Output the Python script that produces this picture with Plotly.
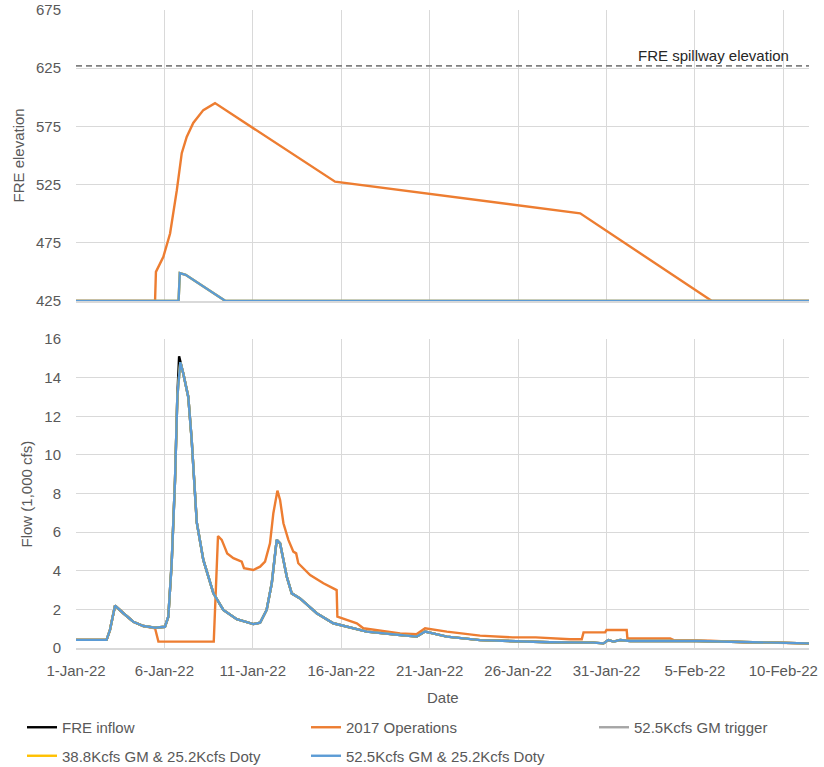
import pandas as pd
import plotly.graph_objects as go
from plotly.subplots import make_subplots

START = pd.Timestamp("2022-01-01")
END_DAYS = 41.45

# ---------------- Top panel: FRE elevation (ft) ----------------
elev_ops_t = [0, 4.47, 4.52, 4.94, 5.32, 5.50, 5.70, 5.98, 6.26, 6.63, 7.20, 7.86, 14.65, 28.51, 35.96, 41.5]
elev_ops_v = [425, 425, 450, 463, 483, 500, 520, 552, 566, 578, 589, 595, 527.5, 500.3, 425, 425]

elev_525_t = [0, 5.80, 5.87, 6.20, 8.45, 41.5]
elev_525_v = [425, 425, 449, 447.5, 425, 425]

spillway_elev = 627
spillway_label = "FRE spillway elevation"

# ---------------- Bottom panel: flow (1,000 cfs) ----------------
flow_525_t = [0, 1.73, 1.92, 2.21, 2.68, 3.24, 3.81, 4.47, 5.03, 5.22, 5.41, 5.60, 5.73, 5.90, 6.07,
              6.35, 6.54, 6.83, 7.20, 7.77, 8.33, 9.09, 10.03, 10.41, 10.78, 11.07, 11.35, 11.54,
              11.92, 12.20, 12.67, 13.61, 14.55, 15.50, 16.44, 18.33, 19.27, 19.74, 20.97, 22.85,
              25.1, 26.8, 29.26, 29.83, 30.1, 30.4, 30.77, 31.33, 35.1, 37.74, 40.1, 41.5]
flow_525_v = [0.42, 0.42, 0.93, 2.2, 1.8, 1.36, 1.14, 1.05, 1.1, 1.62, 4.39, 8.7, 13.0, 14.8, 14.2,
              13.0, 10.8, 6.5, 4.56, 2.83, 1.97, 1.49, 1.24, 1.31, 1.97, 3.35, 5.6, 5.42,
              3.69, 2.83, 2.57, 1.8, 1.28, 1.05, 0.85, 0.67, 0.59, 0.85, 0.59, 0.41,
              0.33, 0.3, 0.28, 0.24, 0.41, 0.33, 0.41, 0.36, 0.36, 0.3, 0.24, 0.24]

inflow_t = [0, 1.73, 1.92, 2.21, 2.68, 3.24, 3.81, 4.47, 5.03, 5.22, 5.41, 5.60, 5.73, 5.83, 6.07,
            6.35, 6.54, 6.83, 7.20, 7.77, 8.33, 9.09, 10.03, 10.41, 10.78, 11.07, 11.35, 11.54,
            11.92, 12.20, 12.67, 13.61, 14.55, 15.50, 16.44, 18.33, 19.27, 19.74, 20.97, 22.85,
            25.1, 26.8, 29.26, 29.83, 30.1, 30.4, 30.77, 31.33, 35.1, 37.74, 40.1, 41.5]
inflow_v = [0.42, 0.42, 0.93, 2.2, 1.8, 1.36, 1.14, 1.05, 1.1, 1.62, 4.39, 8.7, 13.0, 15.1, 14.2,
            13.0, 10.8, 6.5, 4.56, 2.83, 1.97, 1.49, 1.24, 1.31, 1.97, 3.35, 5.6, 5.42,
            3.69, 2.83, 2.57, 1.8, 1.28, 1.05, 0.85, 0.67, 0.59, 0.85, 0.59, 0.41,
            0.33, 0.3, 0.28, 0.24, 0.41, 0.33, 0.41, 0.36, 0.36, 0.3, 0.24, 0.24]

flow_ops_t = [0, 1.73, 1.92, 2.21, 2.68, 3.24, 3.81, 4.47, 4.66, 7.79, 8.03, 8.24, 8.43, 8.55, 8.9,
              9.37, 9.5, 10.03, 10.41, 10.69, 10.97, 11.16, 11.39, 11.54, 11.73, 12.01, 12.29,
              12.45, 12.57, 13.24, 13.99, 14.74, 14.78, 15.88, 16.25, 18.33, 19.27, 19.74, 20.97,
              22.85, 24.7, 26.0, 27.94, 28.6, 28.7, 29.92, 30.0, 31.14, 31.18, 33.6, 33.8, 35.86,
              37.74, 40.1, 41.5]
flow_ops_v = [0.42, 0.42, 0.93, 2.2, 1.8, 1.36, 1.14, 1.02, 0.33, 0.33, 5.8, 5.6, 5.17, 4.9, 4.65,
              4.47, 4.13, 4.04, 4.21, 4.47, 5.42, 6.98, 8.15, 7.67, 6.46, 5.6, 4.99,
              4.9, 4.39, 3.78, 3.35, 3.0, 1.62, 1.28, 1.02, 0.76, 0.72, 1.02, 0.85,
              0.64, 0.55, 0.55, 0.45, 0.45, 0.81, 0.81, 0.93, 0.93, 0.5, 0.5, 0.41, 0.38,
              0.3, 0.24, 0.24]

series_names = ["FRE inflow", "2017 Operations", "52.5Kcfs GM trigger",
                "38.8Kcfs GM & 25.2Kcfs Doty", "52.5Kcfs GM & 25.2Kcfs Doty"]
series_colors = ["#000000", "#ED7D31", "#A5A5A5", "#FFC000", "#5B9BD5"]

title_top = "FRE elevation"
title_bottom = "Flow (1,000 cfs)"
title_x = "Date"


def to_dates(days):
    return START + pd.to_timedelta(pd.Series(days, dtype=float), unit="D")


FONT = "Liberation Sans, Arial, sans-serif"
TXT = "#595959"
GRID = "#D9D9D9"
LW = 2.4
W, H = 824, 767
ML, MR, MT, MB = 76, 15, 10, 119
PW, PH = W - ML - MR, H - MT - MB

fig = make_subplots(rows=2, cols=1, shared_xaxes=True, vertical_spacing=0.06)

# top panel
fig.add_trace(go.Scatter(x=to_dates([0, END_DAYS + 1]), y=[spillway_elev, spillway_elev], mode="lines",
                         line=dict(color="#808080", width=1.6, dash="6px,4px"), showlegend=False,
                         hoverinfo="skip"), row=1, col=1)
fig.add_trace(go.Scatter(x=to_dates(elev_ops_t), y=elev_ops_v, mode="lines", name=series_names[1],
                         line=dict(color=series_colors[1], width=LW), showlegend=False), row=1, col=1)
for i in (2, 3, 4):
    fig.add_trace(go.Scatter(x=to_dates(elev_525_t), y=elev_525_v, mode="lines", name=series_names[i],
                             line=dict(color=series_colors[i], width=LW), showlegend=False), row=1, col=1)

# bottom panel  (legend columns: col1 = inflow / 38.8, col2 = 2017 ops / 52.5 Doty, col3 = trigger)
legend_of = ["legend", "legend2", "legend3", "legend", "legend2"]
fig.add_trace(go.Scatter(x=to_dates(inflow_t), y=inflow_v, mode="lines", name=series_names[0],
                         legendgroup="g0", line=dict(color=series_colors[0], width=LW),
                         legend=legend_of[0]), row=2, col=1)
fig.add_trace(go.Scatter(x=to_dates(flow_ops_t), y=flow_ops_v, mode="lines", name=series_names[1],
                         legendgroup="g1", line=dict(color=series_colors[1], width=LW),
                         legend=legend_of[1]), row=2, col=1)
for i in (2, 3, 4):
    fig.add_trace(go.Scatter(x=to_dates(flow_525_t), y=flow_525_v, mode="lines", name=series_names[i],
                             legendgroup="g%d" % i, line=dict(color=series_colors[i], width=LW),
                             legend=legend_of[i]), row=2, col=1)

x_range = [START, START + pd.Timedelta(days=END_DAYS)]
common_x = dict(range=x_range, type="date", tick0="2022-01-01", dtick=5 * 86400000,
                showgrid=True, gridcolor=GRID, gridwidth=1, zeroline=False,
                showline=True, linecolor=GRID, linewidth=1.5, automargin=False)

fig.update_xaxes(**common_x, showticklabels=False, row=1, col=1)
fig.update_xaxes(**common_x, tickformat="%-d-%b-%y", ticks="", ticklabelstandoff=8,
                 tickfont=dict(family=FONT, size=15, color=TXT), row=2, col=1)

fig.update_yaxes(range=[425, 675], tick0=425, dtick=50, showgrid=True, gridcolor=GRID,
                 zeroline=False, showline=False, ticks="", ticklabelstandoff=14,
                 tickfont=dict(family=FONT, size=15, color=TXT), automargin=False,
                 domain=[0.5439, 1.0], row=1, col=1)
fig.update_yaxes(range=[0, 16], tick0=0, dtick=2, showgrid=True, gridcolor=GRID,
                 zeroline=False, showline=False, ticks="", ticklabelstandoff=14,
                 tickfont=dict(family=FONT, size=15, color=TXT), automargin=False,
                 domain=[0.0, 0.4843], row=2, col=1)

tfont = dict(family=FONT, size=15, color=TXT)
fig.add_annotation(text=spillway_label, xref="paper", yref="y", x=0.9755, y=spillway_elev,
                   xanchor="right", yanchor="bottom", showarrow=False,
                   font=dict(family=FONT, size=15, color="#262626"))
fig.add_annotation(text=title_top, textangle=-90, xref="paper", yref="y domain",
                   x=(18 - ML) / PW, y=0.5, xanchor="center", yanchor="middle",
                   showarrow=False, font=tfont)
fig.add_annotation(text=title_bottom, textangle=-90, xref="paper", yref="y2 domain",
                   x=(27 - ML) / PW, y=0.5, xanchor="center", yanchor="middle",
                   showarrow=False, font=tfont)
fig.add_annotation(text=title_x, xref="paper", yref="paper", x=0.5, y=-(697.5 - (H - MB)) / PH,
                   xanchor="center", yanchor="middle", showarrow=False, font=tfont)

legend_common = dict(orientation="v", xref="container", yref="container", xanchor="left",
                     yanchor="top", font=dict(family=FONT, size=15, color=TXT),
                     bgcolor="rgba(0,0,0,0)", itemwidth=30, traceorder="grouped",
                     tracegroupgap=6)
legend_top = 1 - 711 / H

fig.update_layout(
    width=W, height=H,
    margin=dict(l=ML, r=MR, t=MT, b=MB, autoexpand=False),
    plot_bgcolor="white", paper_bgcolor="white",
    font=dict(family=FONT, size=15, color=TXT),
    legend=dict(**legend_common, x=22 / W, y=legend_top),
    legend2=dict(**legend_common, x=306 / W, y=legend_top),
    legend3=dict(**legend_common, x=594 / W, y=legend_top),
    showlegend=True,
)

fig.write_html("out.html", config={"displayModeBar": False},
               post_script="document.body.style.margin='0';document.body.style.overflow='hidden';")
